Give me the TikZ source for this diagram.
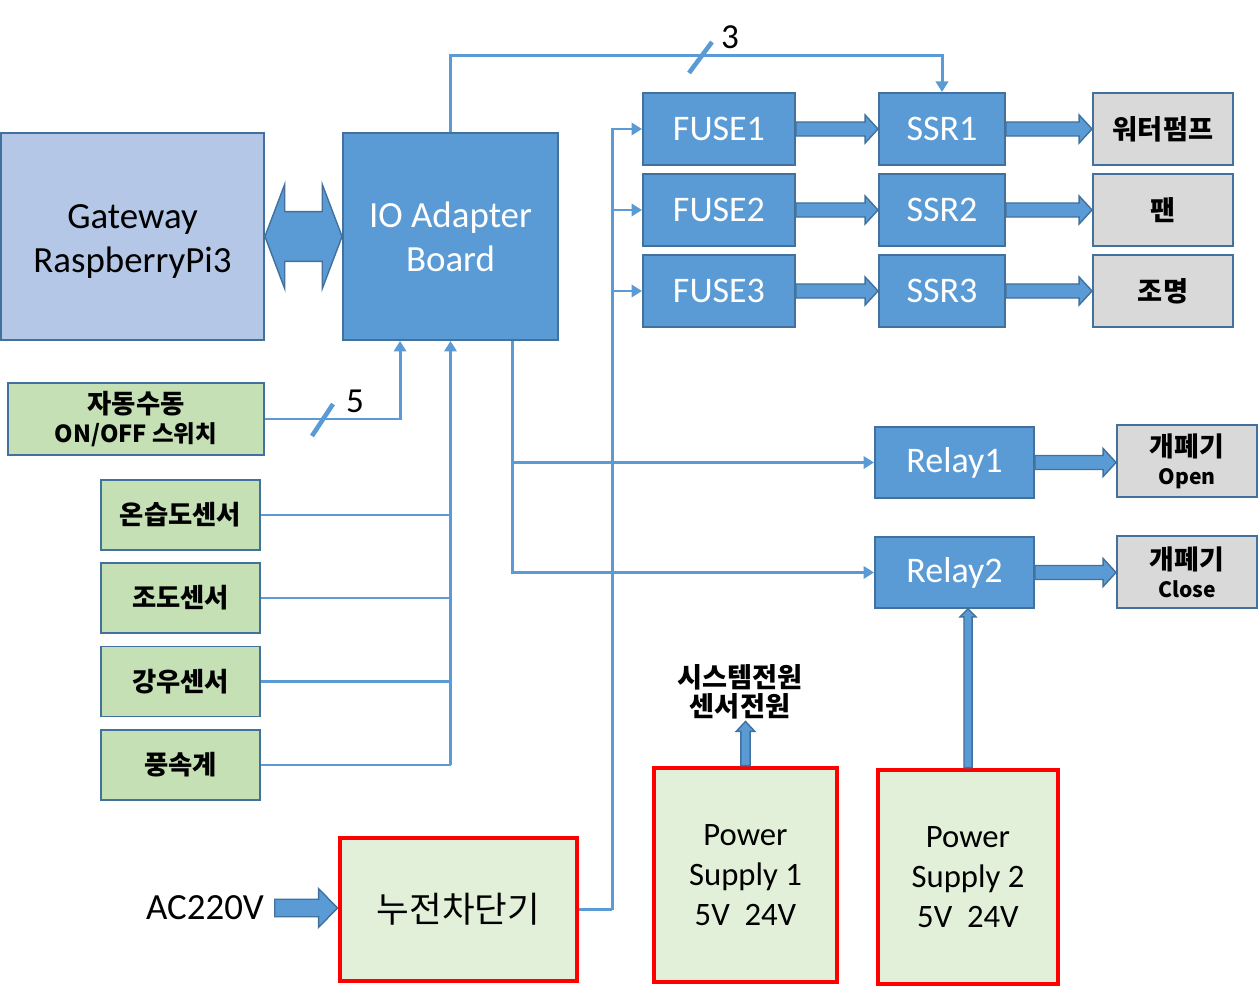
\documentclass[tikz,border=0pt]{standalone}
\usepackage{fontspec}
\setmainfont{Carlito}
\newfontfamily\kr{Noto Sans CJK KR}
\usetikzlibrary{calc,arrows.meta}
\definecolor{blueF}{HTML}{5B9BD5}
\definecolor{blueD}{HTML}{41719C}
\definecolor{gwF}{HTML}{B4C7E7}
\definecolor{grnF}{HTML}{C5E0B4}
\definecolor{grayF}{HTML}{D9D9D9}
\definecolor{psF}{HTML}{E2F0D9}
\tikzset{
  box/.style={draw=blueD, line width=1.1pt, align=center, inner sep=0pt},
  blk/.style={box, fill=blueF, text=white, font=\fontsize{20.5}{25}\selectfont},
  gwbox/.style={box, fill=gwF, font=\fontsize{21}{25}\selectfont},
  sens/.style={box, fill=grnF, font=\kr\bfseries\fontsize{15}{17}\selectfont,
    minimum width=3.18cm, minimum height=1.40cm},
  outbox/.style={box, fill=grayF, font=\kr\bfseries\fontsize{15.5}{16}\selectfont,
    minimum width=2.80cm, minimum height=1.44cm},
  psbox/.style={draw=red, line width=2.8pt, fill=psF, align=center,
    font=\fontsize{18.6}{22.7}\selectfont},
  line/.style={draw=blueF, line width=1.7pt},
  link/.style={line, -{Triangle[length=6pt,width=7pt]}},
  slashmark/.style={draw=blueF, line width=2.6pt},
  fat/.style={fill=blueF, draw=blueD, line width=0.8pt},
}
% fat arrows: #1 from, #2 to, #3 half shaft, #4 half head, #5 head length
\newcommand\harrow[5]{\draw[fat] let \p1=(#1), \p2=(#2) in
  (\x1,{\y1+#3}) -- ({\x2-#5},{\y1+#3}) -- ({\x2-#5},{\y1+#4}) -- (\x2,\y1)
  -- ({\x2-#5},{\y1-#4}) -- ({\x2-#5},{\y1-#3}) -- (\x1,{\y1-#3}) -- cycle;}
\newcommand\varrow[5]{\draw[fat] let \p1=(#1), \p2=(#2) in
  ({\x1-#3},\y1) -- ({\x1-#3},{\y2-#5}) -- ({\x1-#4},{\y2-#5}) -- (\x1,\y2)
  -- ({\x1+#4},{\y2-#5}) -- ({\x1+#3},{\y2-#5}) -- ({\x1+#3},\y1) -- cycle;}
\newcommand\darrow[5]{\draw[fat] let \p1=(#1), \p2=(#2) in
  (\x1,\y1) -- ({\x1+#5},{\y1+#4}) -- ({\x1+#5},{\y1+#3}) -- ({\x2-#5},{\y1+#3})
  -- ({\x2-#5},{\y1+#4}) -- (\x2,\y1) -- ({\x2-#5},{\y1-#4}) -- ({\x2-#5},{\y1-#3})
  -- ({\x1+#5},{\y1-#3}) -- ({\x1+#5},{\y1-#4}) -- cycle;}

\begin{document}
\begin{tikzpicture}[x=0.02cm, y=-0.02cm]
  \useasboundingbox (0,0) rectangle (1258,986);

  %%% main blocks
  \node[gwbox, minimum width=5.26cm, minimum height=4.14cm] (gw) at (132.5,236.5) {\rule{0pt}{19pt}Gateway\\RaspberryPi3};
  \node[blk, minimum width=4.30cm, minimum height=4.14cm, font=\fontsize{21}{25}\selectfont] (io) at (450.5,236.5) {IO Adapter\\Board};

  %%% fuses, ssrs, loads
  \node[blk, minimum width=3.04cm, minimum height=1.44cm] (fuse1) at (719,129) {FUSE1};
  \node[blk, minimum width=3.04cm, minimum height=1.44cm] (fuse2) at (719,210) {FUSE2};
  \node[blk, minimum width=3.04cm, minimum height=1.44cm] (fuse3) at (719,291) {FUSE3};
  \node[blk, minimum width=2.52cm, minimum height=1.44cm] (ssr1) at (942,129) {SSR1};
  \node[blk, minimum width=2.52cm, minimum height=1.44cm] (ssr2) at (942,210) {SSR2};
  \node[blk, minimum width=2.52cm, minimum height=1.44cm] (ssr3) at (942,291) {SSR3};
  \node[outbox] (pump) at (1163,129) {워터펌프};
  \node[outbox] (fan) at (1163,210) {팬};
  \node[outbox] (lamp) at (1163,291) {조명};

  %%% relays
  \node[blk, minimum width=3.18cm, minimum height=1.42cm] (relay1) at (954.5,462.5) {Relay1};
  \node[blk, minimum width=3.18cm, minimum height=1.42cm] (relay2) at (954.5,572.5) {Relay2};
  \node[outbox, font=\kr\bfseries\fontsize{15.3}{16}\selectfont] (open) at (1187,461) {개폐기\\{\fontsize{12}{16}\selectfont Open}};
  \node[outbox, font=\kr\bfseries\fontsize{15.3}{16}\selectfont] (close) at (1187,572) {개폐기\\{\fontsize{12}{16}\selectfont Close}};

  %%% inputs
  \node[sens, minimum width=5.12cm, minimum height=1.44cm] (auto) at (136,419) {자동수동\\{\fontsize{13.4}{17}\selectfont ON/OFF 스위치}};
  \node[sens] (s1) at (180.5,515) {온습도센서};
  \node[sens] (s2) at (180.5,598) {조도센서};
  \node[sens] (s3) at (180.5,681.5) {강우센서};
  \node[sens] (s4) at (180.5,765) {풍속계};

  %%% power
  \node[psbox, minimum width=4.74cm, minimum height=2.86cm, font=\kr\fontsize{20.2}{22}\selectfont] (elb) at (458.5,909.5) {누전차단기};
  \node[psbox, minimum width=3.66cm, minimum height=4.28cm] (ps1) at (745.5,875) {Power\\Supply 1\\5V\ \ 24V};
  \node[psbox, minimum width=3.60cm, minimum height=4.28cm] (ps2) at (968,877) {Power\\Supply 2\\5V\ \ 24V};
  \node[font=\kr\bfseries\fontsize{15.5}{16.5}\selectfont, align=center, inner sep=1pt] (pwr) at (740,692) {시스템전원\\센서전원};
  \node[font=\fontsize{21}{25}\selectfont, inner sep=6pt] (ac) at (205,908) {AC220V};

  %%% connectors
  \draw[link] (io.north) -- ++(0,-77) -| (ssr1.north);
  \draw[slashmark] (689,73) -- (712,42);
  \node[font=\fontsize{20}{24}\selectfont] (n3) at (730,37) {3};

  \draw[link] (auto.east) -| ([xshift=1.16cm]io.south west);
  \draw[slashmark] (312,436) -- (333,404);
  \node[font=\fontsize{20}{24}\selectfont] (n5) at (355,401) {5};

  \foreach \s in {s1,s2,s3,s4}
    \draw[line] (\s.east) -- (\s.east -| io.south);
  \draw[link] (s4.east -| io.south) -- (io.south);

  \draw[link] ([xshift=3.4cm]io.south west) |- (relay1.west);
  \draw[link] ([xshift=3.4cm]io.south west) |- (relay2.west);

  \coordinate (bus) at ($(elb.east)+(33,0)$);
  \draw[line] (elb.east) -- (bus);
  \foreach \f in {fuse1,fuse2,fuse3}
    \draw[link] (bus) |- (\f.west);

  %%% block arrows
  \darrow{gw.east}{io.west}{14.2pt}{29.8pt}{11.3pt}
  \foreach \i in {1,2,3}
    \harrow{fuse\i.east}{ssr\i.west}{4pt}{8pt}{7.4pt};
  \harrow{ssr1.east}{pump.west}{4pt}{8pt}{7.4pt}
  \harrow{ssr2.east}{fan.west}{4pt}{8pt}{7.4pt}
  \harrow{ssr3.east}{lamp.west}{4pt}{8pt}{7.4pt}
  \harrow{relay1.east}{open.west}{4pt}{8pt}{7.4pt}
  \harrow{relay2.east}{close.west}{4pt}{8pt}{7.4pt}
  \harrow{ac.east}{elb.west}{5pt}{11pt}{10.8pt}
  \varrow{ps1.north}{pwr.south}{2.6pt}{5.3pt}{5.7pt}
  \varrow{ps2.north}{ps2.north |- relay2.south}{2.3pt}{4.5pt}{4.5pt}
\end{tikzpicture}
\end{document}
